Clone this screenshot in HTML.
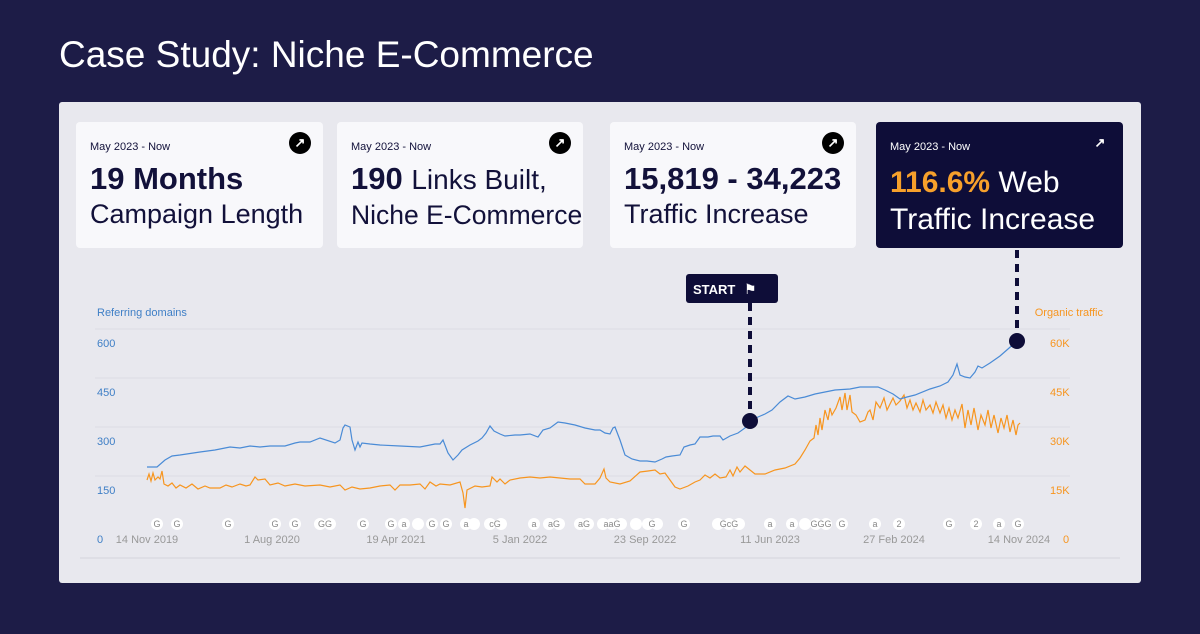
<!DOCTYPE html>
<html><head><meta charset="utf-8"><style>
body{margin:0;width:1200px;height:634px;background:#1d1c47;font-family:"Liberation Sans",sans-serif;overflow:hidden;position:relative}
.t{position:absolute;left:59px;top:34px;color:#fff;font-size:37px}
.panel{position:absolute;left:59px;top:102px;width:1082px;height:481px;background:#e8e8ee;border-radius:3px}
.card{position:absolute;top:122px;height:126px;background:#f8f8fb;border-radius:4px;color:#12113a}
.card .s{position:absolute;left:14px;top:19px;font-size:11px}
.card .b{position:absolute;left:14px;top:40px;font-size:31px;line-height:34px;white-space:nowrap}
.card .ic{position:absolute;right:12px;top:10px;width:22px;height:22px;border-radius:50%;background:#000;color:#fff;font-size:13px;text-align:center;line-height:22px;font-weight:bold}
</style></head><body>
<div class="t">Case Study: Niche E-Commerce</div>
<div class="panel"></div>
<div class="card" style="left:76px;width:247px"><div class="s">May 2023 - Now</div><div class="ic">↗</div><div class="b"><b>19 Months</b><br><span style="font-size:27px">Campaign Length</span></div></div>
<div class="card" style="left:337px;width:246px"><div class="s">May 2023 - Now</div><div class="ic">↗</div><div class="b"><b>190</b> <span style="font-size:28px">Links Built,</span><br><span style="font-size:26.5px">Niche E-Commerce</span></div></div>
<div class="card" style="left:610px;width:246px"><div class="s">May 2023 - Now</div><div class="ic">↗</div><div class="b"><b>15,819 - 34,223</b><br><span style="font-size:27px">Traffic Increase</span></div></div>
<div class="card" style="left:876px;width:247px;background:#0e0d38;color:#fff"><div class="s">May 2023 - Now</div><div class="ic" style="background:none">↗</div><div class="b" style="top:42px;font-size:30px;line-height:37px"><b style="color:#f7a02b">116.6%</b> Web<br>Traffic Increase</div></div>
<svg style="position:absolute;left:0;top:0" width="1200" height="634" font-family="Liberation Sans, sans-serif">
<g stroke="#dcdce4" stroke-width="1">
<line x1="95" y1="329" x2="1070" y2="329"/><line x1="95" y1="378" x2="1070" y2="378"/><line x1="95" y1="427" x2="1070" y2="427"/><line x1="95" y1="476" x2="1070" y2="476"/><line x1="80" y1="558" x2="1120" y2="558" stroke="#d4d4dc"/></g>
<g font-size="11" fill="#3f7fc6"><text x="97" y="316">Referring domains</text><text x="97" y="347">600</text><text x="97" y="396">450</text><text x="97" y="445">300</text><text x="97" y="494">150</text><text x="97" y="543">0</text></g>
<g font-size="11" fill="#f7951f"><text x="1103" y="316" text-anchor="end">Organic traffic</text><text x="1050" y="347">60K</text><text x="1050" y="396">45K</text><text x="1050" y="445">30K</text><text x="1050" y="494">15K</text><text x="1063" y="543">0</text></g>
<g font-size="11" fill="#999" text-anchor="middle"><text x="147" y="543">14 Nov 2019</text><text x="272" y="543">1 Aug 2020</text><text x="396" y="543">19 Apr 2021</text><text x="520" y="543">5 Jan 2022</text><text x="645" y="543">23 Sep 2022</text><text x="770" y="543">11 Jun 2023</text><text x="894" y="543">27 Feb 2024</text><text x="1019" y="543">14 Nov 2024</text></g>
<g fill="#fff" font-size="9" text-anchor="middle">
<circle cx="157" cy="524" r="6"/><circle cx="177" cy="524" r="6"/><circle cx="228" cy="524" r="6"/><circle cx="275" cy="524" r="6"/><circle cx="295" cy="524" r="6"/><circle cx="320" cy="524" r="6"/><circle cx="330" cy="524" r="6"/><circle cx="363" cy="524" r="6"/><circle cx="391" cy="524" r="6"/><circle cx="404" cy="524" r="6"/><circle cx="418" cy="524" r="6"/><circle cx="432" cy="524" r="6"/><circle cx="446" cy="524" r="6"/><circle cx="466" cy="524" r="6"/><circle cx="474" cy="524" r="6"/><circle cx="490" cy="524" r="6"/><circle cx="501" cy="524" r="6"/><circle cx="534" cy="524" r="6"/><circle cx="549" cy="524" r="6"/><circle cx="559" cy="524" r="6"/><circle cx="580" cy="524" r="6"/><circle cx="588" cy="524" r="6"/><circle cx="603" cy="524" r="6"/><circle cx="612" cy="524" r="6"/><circle cx="621" cy="524" r="6"/><circle cx="636" cy="524" r="6"/><circle cx="648" cy="524" r="6"/><circle cx="657" cy="524" r="6"/><circle cx="684" cy="524" r="6"/><circle cx="718" cy="524" r="6"/><circle cx="729" cy="524" r="6"/><circle cx="739" cy="524" r="6"/><circle cx="770" cy="524" r="6"/><circle cx="792" cy="524" r="6"/><circle cx="805" cy="524" r="6"/><circle cx="816" cy="524" r="6"/><circle cx="826" cy="524" r="6"/><circle cx="842" cy="524" r="6"/><circle cx="875" cy="524" r="6"/><circle cx="899" cy="524" r="6"/><circle cx="949" cy="524" r="6"/><circle cx="976" cy="524" r="6"/><circle cx="999" cy="524" r="6"/><circle cx="1018" cy="524" r="6"/>
</g>
<g fill="#888" font-size="9" text-anchor="middle"><text x="157" y="527">G</text><text x="177" y="527">G</text><text x="228" y="527">G</text><text x="275" y="527">G</text><text x="295" y="527">G</text><text x="325" y="527">GG</text><text x="363" y="527">G</text><text x="391" y="527">G</text><text x="404" y="527">a</text><text x="432" y="527">G</text><text x="446" y="527">G</text><text x="466" y="527">a</text><text x="495" y="527">cG</text><text x="534" y="527">a</text><text x="554" y="527">aG</text><text x="584" y="527">aG</text><text x="612" y="527">aaG</text><text x="652" y="527">G</text><text x="684" y="527">G</text><text x="729" y="527">GcG</text><text x="770" y="527">a</text><text x="792" y="527">a</text><text x="821" y="527">GGG</text><text x="842" y="527">G</text><text x="875" y="527">a</text><text x="899" y="527">2</text><text x="949" y="527">G</text><text x="976" y="527">2</text><text x="999" y="527">a</text><text x="1018" y="527">G</text></g>
<polyline fill="none" stroke="#f7951f" stroke-width="1.2" points="147,480 149,474 151,481 153,473 155,480 158,477 160,479 162,471 164,484 168,486 172,483 176,488 180,485 186,488 192,484 198,489 205,486 210,488 220,488 226,485 232,487 240,484 246,486 250,485 255,477 258,480 265,479 270,485 278,483 285,486 295,484 305,486 320,485 330,487 340,485 345,490 352,487 360,489 370,488 380,486 390,485 395,490 400,485 410,485 420,484 425,489 430,482 436,486 440,484 450,485 460,482 463,493 465,508 467,490 475,486 482,487 490,486 492,477 497,482 500,479 505,484 510,480 520,478 530,477 540,478 550,477 560,478 570,479 580,479 585,484 595,484 600,478 604,469 606,478 610,482 620,484 630,481 640,472 648,471 655,470 660,474 665,473 670,480 675,487 680,489 688,486 695,482 700,480 705,475 710,478 715,474 720,478 726,477 730,470 733,476 737,467 740,472 745,466 750,470 755,474 765,474 775,470 785,468 795,464 800,458 805,450 810,441 814,438 816,425 818,435 820,418 822,430 825,410 828,420 830,408 832,415 836,408 840,397 842,410 845,393 847,410 850,395 852,412 856,415 860,422 865,420 868,412 870,410 873,420 876,402 880,408 884,398 887,410 890,404 893,398 896,405 900,401 904,395 907,408 910,400 913,410 916,403 920,412 923,400 926,410 930,405 933,413 936,402 940,413 943,405 946,418 949,408 952,420 955,410 958,418 962,404 965,428 968,410 971,425 974,408 978,430 981,415 985,425 988,410 991,428 994,415 998,433 1001,418 1004,428 1007,415 1010,432 1013,420 1016,435 1018,425 1020,423"/>
<polyline fill="none" stroke="#4a8bd6" stroke-width="1.2" points="147,467 157,467 165,460 172,456 180,455 200,452 215,450 230,447 240,448 250,446 260,447 270,446 285,446 295,443 300,442 310,442 320,438 335,443 340,440 343,428 345,425 350,427 352,440 355,450 358,442 360,447 362,443 370,444 380,445 400,446 420,447 435,444 440,444 443,440 448,453 453,460 458,455 462,450 470,445 478,441 482,438 486,433 490,426 494,431 500,434 505,436 515,435 520,435 530,434 538,437 543,430 550,428 558,422 565,423 575,425 585,428 595,430 600,430 605,433 610,434 613,428 615,427 620,440 625,455 632,459 640,461 647,461 655,462 662,459 666,457 672,456 680,455 684,447 690,445 695,444 700,437 708,437 713,436 720,436 723,440 730,436 738,433 745,428 750,421 758,417 765,414 772,410 780,402 788,396 795,399 805,397 815,394 825,392 835,390 850,389 860,387 870,387 878,387 885,390 893,394 900,399 907,397 915,395 930,389 940,386 948,382 953,375 957,364 960,375 965,377 970,378 975,372 978,366 982,368 990,363 1000,356 1008,349 1017,341"/>
<g stroke="#0e0d38" stroke-width="4" stroke-dasharray="8,6"><line x1="750" y1="303" x2="750" y2="415"/><line x1="1017" y1="250" x2="1017" y2="335"/></g>
<circle cx="750" cy="421" r="8" fill="#0e0d38"/><circle cx="1017" cy="341" r="8" fill="#0e0d38"/>
<rect x="686" y="274" width="92" height="29" rx="3" fill="#0e0d38"/>
<text x="693" y="294" fill="#fff" font-size="13" font-weight="bold">START</text>
<text x="744" y="294" fill="#fff" font-size="14">⚑</text>
</svg>
</body></html>
